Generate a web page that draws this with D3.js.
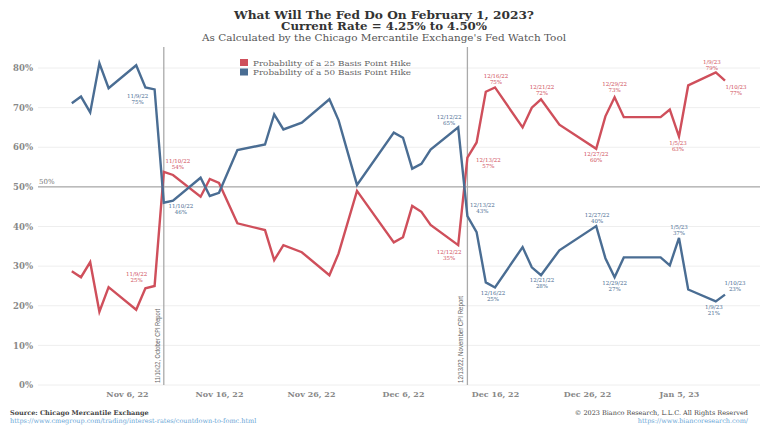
<!DOCTYPE html>
<html><head><meta charset="utf-8">
<script src="https://cdn.jsdelivr.net/npm/d3@7"></script>
<style>html,body{margin:0;padding:0;background:#fff}svg{display:block}</style>
</head><body>
<svg id="c" width="768" height="432"></svg>
<script>
const dates = ["2022-10-31","2022-11-01","2022-11-02","2022-11-03","2022-11-04","2022-11-07","2022-11-08","2022-11-09",
"2022-11-10","2022-11-11","2022-11-14","2022-11-15","2022-11-16","2022-11-18","2022-11-21","2022-11-22","2022-11-23",
"2022-11-25","2022-11-28","2022-11-29","2022-12-01","2022-12-05","2022-12-06","2022-12-07","2022-12-08","2022-12-09",
"2022-12-12","2022-12-13","2022-12-14","2022-12-15","2022-12-16","2022-12-19","2022-12-20","2022-12-21","2022-12-23",
"2022-12-27","2022-12-28","2022-12-29","2022-12-30","2023-01-03","2023-01-04","2023-01-05","2023-01-06","2023-01-09","2023-01-10"];
const hike25 = [28.7,27.2,31.0,18.5,24.7,19.0,24.4,25.0,
53.8,53.0,47.5,52.0,51.0,40.8,39.1,31.5,35.3,
33.5,27.7,33.2,49.0,36.0,37.3,45.2,43.7,40.4,
35.3,57.4,61.2,74.0,75.1,65.0,70.0,72.1,65.7,
59.6,67.8,72.6,67.6,67.6,69.5,62.7,75.6,78.9,76.8];
const hike50 = [71.1,72.8,68.8,81.2,74.9,80.7,75.1,74.6,
46.0,46.5,52.3,47.7,48.5,59.3,60.7,68.3,64.5,
66.2,72.1,66.8,50.5,63.7,62.4,54.6,55.8,59.4,
65.0,42.6,38.6,25.9,24.6,34.8,29.7,27.7,34.0,
40.1,32.0,27.2,32.2,32.2,30.2,37.1,24.1,21.1,22.8];
const seriesNames = ["Probability of a 25 Basis Point  Hike","Probability of a 50 Basis Point  Hike"];
const labelDates = ["2022-11-09","2022-11-10","2022-12-12","2022-12-13","2022-12-16","2022-12-21","2022-12-27","2022-12-29","2023-01-05","2023-01-09","2023-01-10"];
const yTicks = [0,10,20,30,40,50,60,70,80];
const xTickDates = ["2022-11-06","2022-11-16","2022-11-26","2022-12-06","2022-12-16","2022-12-26","2023-01-05"];
const events = [["2022-11-10","11/10/22, October CPI Report"],["2022-12-13","12/13/22, November CPI Report"]];
const titles = ["What Will The Fed Do On February 1, 2023?","Current Rate = 4.25% to 4.50%","As Calculated by the Chicago Mercantile Exchange's Fed Watch Tool"];

const parse = d3.timeParse("%Y-%m-%d");
const svg = d3.select("#c");
const FONT = "DejaVu Serif";
const RED = "#cf4f5b", BLUE = "#4a6d93";

const x = d3.scaleTime().domain([parse("2022-11-06"), parse("2023-01-05")]).range([127, 679]);
const y = d3.scaleLinear().domain([0, 80]).range([385, 68]);
const plotL = 38, plotR = 760;

// Titles
const t = svg.append("g").attr("font-family", FONT).attr("text-anchor", "middle");
t.append("text").attr("x", 384).attr("y", 19).attr("font-size", 10.5).attr("font-weight", "bold").attr("fill", "#333")
  .attr("textLength", 300).attr("lengthAdjust", "spacingAndGlyphs").text(titles[0]);
t.append("text").attr("x", 384).attr("y", 30).attr("font-size", 10.5).attr("font-weight", "bold").attr("fill", "#333")
  .attr("textLength", 206).attr("lengthAdjust", "spacingAndGlyphs").text(titles[1]);
t.append("text").attr("x", 384).attr("y", 40.5).attr("font-size", 9).attr("fill", "#555")
  .attr("textLength", 364).attr("lengthAdjust", "spacingAndGlyphs").text(titles[2]);

// Grid
svg.append("g").selectAll("line").data(yTicks).join("line")
  .attr("x1", plotL).attr("x2", plotR).attr("y1", d => y(d)).attr("y2", d => y(d))
  .attr("stroke", "#eeeeee").attr("stroke-width", 1);

// Y axis
const ya = svg.append("g").attr("transform", `translate(${plotL - 4},0)`)
  .call(d3.axisLeft(y).tickValues(yTicks).tickFormat(d => d + "%").tickSize(0).tickPadding(1));
ya.select(".domain").remove();
ya.selectAll("text").attr("font-family", FONT).attr("font-size", 8.5).attr("font-weight", "bold").attr("fill", "#888");

// X axis
const xa = svg.append("g").attr("transform", `translate(0,${y(0)})`)
  .call(d3.axisBottom(x).tickValues(xTickDates.map(parse)).tickFormat(d3.timeFormat("%b %-d, %y")).tickSize(0).tickPadding(6));
xa.select(".domain").remove();
xa.selectAll("text").attr("font-family", FONT).attr("font-size", 8).attr("font-weight", "bold").attr("fill", "#888");

// 50% line
svg.append("line").attr("x1", plotL).attr("x2", plotR).attr("y1", y(50)).attr("y2", y(50)).attr("stroke", "#999").attr("stroke-width", 1);
svg.append("text").attr("x", plotL + 1).attr("y", y(50) - 3).attr("font-family", FONT).attr("font-size", 7).attr("fill", "#777").text("50%");

// Event lines
events.forEach(([d, label]) => {
  const ex = x(parse(d));
  svg.append("line").attr("x1", ex).attr("x2", ex).attr("y1", 47).attr("y2", y(0)).attr("stroke", "#aaa").attr("stroke-width", 1.3);
  const len = label.length > 28 ? 87 : 74;
  svg.append("text").attr("transform", `translate(${ex - 4},${y(0) - 2}) rotate(-90)`)
    .attr("font-family", "Liberation Sans").attr("font-size", 7.5).attr("fill", "#666")
    .attr("textLength", len).attr("lengthAdjust", "spacingAndGlyphs").text(label);
});

// Lines
const pts = s => dates.map((d, i) => ({ d: parse(d), v: s[i], key: d }));
const line = d3.line().x(p => x(p.d)).y(p => y(p.v));
[[hike25, RED], [hike50, BLUE]].forEach(([s, col]) => {
  svg.append("path").datum(pts(s)).attr("d", line).attr("fill", "none").attr("stroke", col)
    .attr("stroke-width", 2.4).attr("stroke-linejoin", "miter").attr("stroke-linecap", "butt");
});

// Annotation placement (offsets of label centre from point)
const place = {
  red: {"2022-11-09":[-18,-12],"2022-11-10":[14,-11],"2022-12-12":[-9,7],"2022-12-13":[21,2],"2022-12-16":[1,-11],
        "2022-12-21":[1,-12],"2022-12-27":[0,5],"2022-12-29":[0,-13],"2023-01-05":[-1,6],"2023-01-09":[-4,-10],"2023-01-10":[11,6]},
  blue:{"2022-11-09":[-17,7],"2022-11-10":[17,3],"2022-12-12":[-9,-10],"2022-12-13":[15,-11],"2022-12-16":[-2,5],
        "2022-12-21":[1,5],"2022-12-27":[1,-11],"2022-12-29":[0,6],"2023-01-05":[0,-11],"2023-01-09":[-2,6],"2023-01-10":[10,-12]}
};
const fmtLab = d3.timeFormat("%-m/%-d/%y");
[[hike25, RED, "red"], [hike50, BLUE, "blue"]].forEach(([s, col, k]) => {
  const g = svg.append("g").attr("font-family", FONT).attr("font-size", 5.5).attr("fill", col).attr("text-anchor", "middle");
  pts(s).filter(p => labelDates.includes(p.key)).forEach(p => {
    const [dx, dy] = place[k][p.key];
    const cx = x(p.d) + dx, cy = y(p.v) + dy;
    g.append("text").attr("x", cx).attr("y", cy).attr("dominant-baseline", "central").text(fmtLab(p.d));
    g.append("text").attr("x", cx).attr("y", cy + 6).attr("dominant-baseline", "central").text(Math.round(p.v) + "%");
  });
});

// Legend
const lg = svg.append("g").attr("font-family", FONT);
[RED, BLUE].forEach((c, i) => {
  lg.append("rect").attr("x", 240).attr("y", 59 + i * 9.5).attr("width", 8).attr("height", 7).attr("fill", c);
  lg.append("text").attr("x", 253).attr("y", 65.5 + i * 9.5).attr("font-size", 8).attr("fill", "#666")
    .attr("textLength", 158).attr("lengthAdjust", "spacingAndGlyphs").text(seriesNames[i]);
});

// Footer
const f = svg.append("g").attr("font-family", FONT).attr("font-size", 6.5);
f.append("text").attr("x", 10).attr("y", 415).attr("fill", "#444").attr("font-weight", "bold").text("Source: Chicago Mercantile Exchange");
f.append("text").attr("x", 10).attr("y", 423).attr("fill", "#6aa6d6").text("https://www.cmegroup.com/trading/interest-rates/countdown-to-fomc.html");
f.append("text").attr("x", 748).attr("y", 415).attr("text-anchor", "end").attr("fill", "#444").text("\u00A9 2023 Bianco Research, L.L.C. All Rights Reserved");
f.append("text").attr("x", 748).attr("y", 423).attr("text-anchor", "end").attr("fill", "#6aa6d6").text("https://www.biancoresearch.com/");
</script>
</body></html>
